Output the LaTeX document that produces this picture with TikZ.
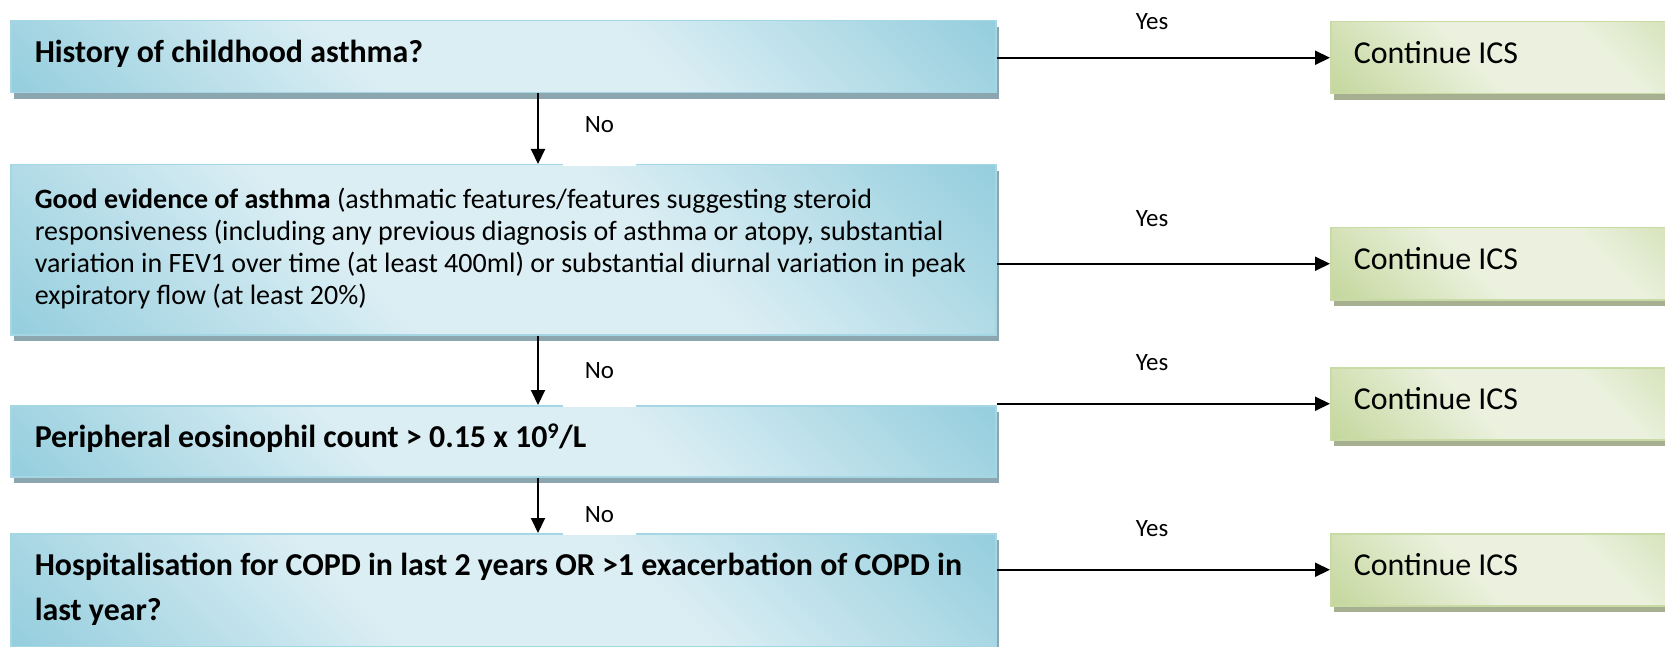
\documentclass[tikz,border=0pt]{standalone}
\usepackage{fontspec}
\setmainfont{Carlito}
\usetikzlibrary{arrows.meta,shadows}

\definecolor{bdark}{RGB}{147,205,221}
\definecolor{blight}{RGB}{219,238,244}
\definecolor{bborder}{RGB}{165,214,227}
\definecolor{bshadow}{RGB}{140,166,175}
\definecolor{gdark}{RGB}{195,214,155}
\definecolor{glight}{RGB}{235,241,222}
\definecolor{gborder}{RGB}{200,219,164}
\definecolor{gshadow}{RGB}{166,176,144}

\pgfdeclarehorizontalshading{bluediag}{100bp}{color(0bp)=(bdark); color(14bp)=(bdark); color(40bp)=(blight); color(60bp)=(blight); color(86bp)=(bdark); color(100bp)=(bdark)}
\pgfdeclarehorizontalshading{greendiag}{100bp}{color(0bp)=(gdark); color(14bp)=(gdark); color(40bp)=(glight); color(60bp)=(glight); color(86bp)=(gdark); color(100bp)=(gdark)}

\newcommand{\qfont}{\fontsize{31.9}{45}\selectfont}
\newcommand{\dfont}{\fontsize{28}{32}\selectfont}
\newcommand{\lfont}{\fontsize{24.9}{30}\selectfont}
\newcommand{\qtext}[1]{\parbox[t]{937pt}{\raggedright #1}}
\newcommand{\ctext}[1]{\makebox[374pt][l]{#1}}

\begin{document}
\begin{tikzpicture}[x=1pt,y=-1pt,
  qbox/.style={rectangle, draw=bborder, line width=1.5pt, shading=bluediag, shading angle=45,
    general shadow={fill=bshadow, shadow xshift=3pt, shadow yshift=-6pt},
    minimum width=985pt, inner sep=0pt, anchor=north west, font=\qfont},
  cbox/.style={rectangle, draw=gborder, line width=1.5pt, shading=greendiag, shading angle=45,
    general shadow={fill=gshadow, shadow xshift=3.5pt, shadow yshift=-6pt},
    minimum width=420pt, minimum height=72pt, inner sep=0pt, anchor=north west, font=\qfont,
    text height=22pt, text depth=10pt},
  arr/.style={line width=2pt, -{Triangle[length=15pt,width=14pt]}},
  yeslbl/.style={anchor=base, font=\lfont, inner sep=0pt},
  nolbl/.style={anchor=base, font=\lfont, inner sep=0pt, fill=white, minimum width=73pt, text height=20pt}
]
\useasboundingbox (0,0) rectangle (1665,647);
\clip (0,0) rectangle (1665,647);

% question boxes
\node[qbox, minimum height=72pt, text height=22pt, text depth=10pt] (box1) at (10,20)
  {\qtext{\textbf{History of childhood asthma?}}};
\node[qbox, minimum height=170pt, text height=20pt, text depth=102pt, font=\dfont] (box2) at (10,164)
  {\qtext{\mbox{\textbf{Good evidence of asthma} (asthmatic features/features suggesting steroid}\newline
  \mbox{responsiveness (including any previous diagnosis of asthma or atopy, substantial}\newline
  \mbox{variation in FEV1 over time (at least 400ml) or substantial diurnal variation in peak}\newline
  \mbox{expiratory flow (at least 20\%)}}};
\node[qbox, minimum height=71pt, text height=23pt, text depth=10pt] (box3) at (10,405)
  {\qtext{\textbf{Peripheral eosinophil count > 0.15 x 10\textsuperscript{9}/L}}};
\node[qbox, minimum height=113pt, text height=20pt, text depth=49pt] (box4) at (10,533)
  {\qtext{\mbox{\textbf{Hospitalisation for COPD in last 2 years OR >1 exacerbation of COPD in}}\newline \textbf{last year?}}};

% outcome boxes
\node[cbox] (g1) at (1330,21) {\ctext{Continue ICS}};
\node[cbox] (g2) at (1330,227) {\ctext{Continue ICS}};
\node[cbox] (g3) at (1330,367) {\ctext{Continue ICS}};
\node[cbox] (g4) at (1330,533) {\ctext{Continue ICS}};

% connectors
\coordinate (vx) at (538,0);
\coordinate (stubend) at (538,690);
\draw[arr] (box1.east |- g1.west) -- (g1.west);
\draw[arr] (box2.east |- g2.west) -- (g2.west);
\draw[arr] (box3.east |- g3.west) -- (g3.west);
\draw[arr] (box4.east |- g4.west) -- (g4.west);
\draw[arr] (vx |- box1.south) -- (vx |- box2.north);
\draw[arr] (vx |- box2.south) -- (vx |- box3.north);
\draw[arr] (vx |- box3.south) -- (vx |- box4.north);
\draw[line width=2pt] (vx |- box4.south) -- (stubend);

% labels
\node[yeslbl] (yes1) at (1152,30) {Yes};
\node[yeslbl] (yes2) at (1152,226) {Yes};
\node[yeslbl] (yes3) at (1152,370) {Yes};
\node[yeslbl] (yes4) at (1152,536) {Yes};
\node[nolbl, text depth=33pt] (no1) at (599.5,133) {No};
\node[nolbl, text depth=29pt] (no2) at (599.5,378) {No};
\node[nolbl, text depth=13pt] (no3) at (599.5,522) {No};
\end{tikzpicture}
\end{document}
